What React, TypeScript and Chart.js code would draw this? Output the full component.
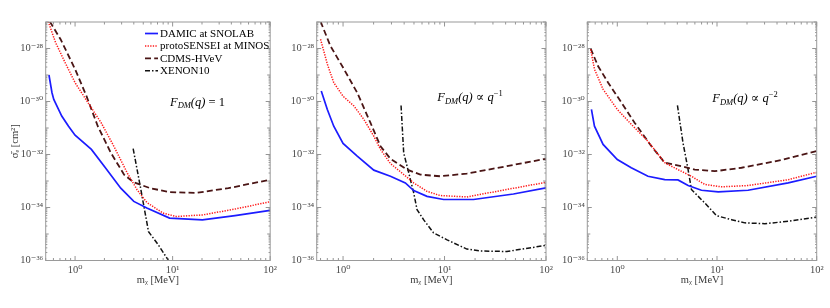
import React, { useEffect, useRef } from "react";
import { Chart, registerables } from "chart.js";
Chart.register(...registerables);

const FONT = "'Liberation Serif', 'DejaVu Serif', serif";

// ---------- tick labels ----------
const X_TICKS = [1, 10, 100];
const X_TICK_LABELS = ["10\u2070", "10\u00B9", "10\u00B2"];
const Y_TICKS = [1e-36, 1e-34, 1e-32, 1e-30, 1e-28];
const Y_TICK_LABELS = ["10\u207B\u00B3\u2076", "10\u207B\u00B3\u2074", "10\u207B\u00B3\u00B2", "10\u207B\u00B3\u2070", "10\u207B\u00B2\u2078"];
const X_TITLE = "m\u1D6A [MeV]";
const Y_TITLE = "\u03C3\u0304\u2091 [cm\u00B2]";
const SERIES_NAMES = ["DAMIC at SNOLAB", "protoSENSEI at MINOS", "CDMS-HVeV", "XENON10"];

// ---------- Panel 1 : F_DM(q) = 1 ----------
const p1DamicX = [0.54, 0.58, 0.605, 0.73, 0.857, 1.0, 1.47, 2.0, 2.94, 4.0, 5.44, 9.3, 20.2, 43.6, 100];
const p1DamicY = [1.0e-29, 2.14e-30, 1.2e-30, 2.82e-31, 1.17e-31, 5.37e-32, 1.55e-32, 3.55e-33, 5.37e-34, 1.7e-34, 9.55e-35, 3.98e-35, 3.39e-35, 4.9e-35, 7.76e-35];
const p1ProtoX = [0.53, 0.63, 0.79, 1.0, 1.36, 1.85, 2.5, 3.43, 4.32, 5.44, 7.95, 10.9, 20.2, 43.6, 100];
const p1ProtoY = [1.05e-27, 1.7e-28, 2.95e-29, 5.13e-30, 8.91e-31, 1.585e-31, 2.04e-32, 2.0e-33, 4.68e-34, 1.55e-34, 6.17e-35, 4.57e-35, 5.25e-35, 8.71e-35, 1.66e-34];
const p1CdmsX = [0.55, 0.71, 1.0, 1.31, 1.71, 2.33, 3.18, 4.0, 5.88, 9.33, 17.3, 37.3, 100];
const p1CdmsY = [1.05e-27, 2.24e-28, 1.66e-29, 1.585e-30, 1.17e-31, 1.15e-32, 1.74e-33, 8.91e-34, 5.37e-34, 3.8e-34, 3.55e-34, 5.37e-34, 1.12e-33];
const p1XenonX = [3.94, 4.66, 5.66, 7.13, 8.99, 9.6];
const p1XenonY = [1.66e-32, 6.31e-34, 1.23e-35, 3.89e-36, 1.05e-36, 6.0e-37];

// ---------- Panel 2 : F_DM(q) ∝ q^-1 ----------
const p2DamicX = [0.61, 0.7, 0.81, 1.0, 1.38, 2.01, 2.93, 4.11, 4.97, 6.72, 9.8, 19.3, 47.8, 100];
const p2DamicY = [2.51e-30, 5.01e-31, 1.17e-31, 2.63e-32, 8.71e-33, 2.57e-33, 1.51e-33, 8.51e-34, 4.37e-34, 2.63e-34, 2.0e-34, 2.0e-34, 3.24e-34, 5.5e-34];
const p2ProtoX = [0.6, 0.7, 0.81, 1.0, 1.28, 1.6, 2.01, 2.34, 2.93, 3.67, 4.97, 6.72, 9.08, 16.6, 41.1, 100];
const p2ProtoY = [2.24e-28, 2.57e-29, 5.13e-30, 1.585e-30, 6.76e-31, 2.14e-31, 4.9e-32, 1.55e-32, 4.57e-33, 2.24e-33, 8.51e-34, 4.07e-34, 2.82e-34, 2.51e-34, 4.79e-34, 8.91e-34];
const p2CdmsX = [0.6, 0.75, 1.0, 1.38, 1.86, 2.34, 2.93, 4.27, 5.78, 9.08, 16.6, 41.1, 100];
const p2CdmsY = [1.05e-27, 1.26e-28, 1.91e-29, 2.14e-30, 1.585e-31, 2.04e-32, 6.92e-33, 2.69e-33, 1.74e-33, 1.51e-33, 1.91e-33, 3.63e-33, 6.92e-33];
const p2XenonX = [3.73, 3.96, 4.44, 4.97, 5.36, 6.22, 7.8, 10.6, 16.6, 22.4, 41.1, 100];
const p2XenonY = [7.08e-31, 1.15e-32, 2.04e-33, 3.55e-34, 8.32e-35, 3.47e-35, 1.1e-35, 6.03e-36, 2.69e-36, 2.29e-36, 2.19e-36, 3.72e-36];

// ---------- Panel 3 : F_DM(q) ∝ q^-2 ----------
const p3DamicX = [0.55, 0.59, 0.72, 1.0, 1.38, 2.03, 2.99, 4.06, 5.13, 6.98, 10.3, 20.5, 51.8, 100];
const p3DamicY = [5.01e-31, 1.17e-31, 2.4e-32, 6.46e-33, 3.16e-33, 1.51e-33, 1.12e-33, 1.1e-33, 6.76e-34, 4.47e-34, 3.89e-34, 4.47e-34, 8.51e-34, 1.51e-33];
const p3ProtoX = [0.54, 0.59, 0.72, 1.0, 1.38, 2.03, 2.99, 4.06, 5.54, 7.54, 11.1, 20.5, 51.8, 100];
const p3ProtoY = [9.33e-29, 1.66e-29, 2.88e-30, 5.01e-31, 1.38e-31, 3.16e-32, 4.9e-33, 2.69e-33, 1.51e-33, 7.41e-34, 6.03e-34, 6.76e-34, 1.12e-33, 2.14e-33];
const p3CdmsX = [0.54, 0.64, 0.81, 1.1, 1.49, 2.2, 2.99, 4.4, 5.98, 9.5, 17.6, 44.5, 100];
const p3CdmsY = [1.0e-28, 2.19e-29, 5.13e-30, 9.12e-31, 1.585e-31, 2.04e-32, 4.9e-33, 3.63e-33, 2.69e-33, 2.34e-33, 3.16e-33, 6.17e-33, 1.35e-32];
const p3XenonX = [4.01, 4.56, 5.13, 5.54, 7.54, 9.9, 14, 19, 30.2, 51.8, 100];
const p3XenonY = [7.08e-31, 2.75e-32, 2.69e-33, 4.79e-34, 1.48e-34, 4.9e-35, 3.47e-35, 2.63e-35, 2.45e-35, 3.02e-35, 4.37e-35];

// ---------- styles ----------
const STYLES = [
  { borderColor: "#1c1cff", borderWidth: 1.7, borderDash: [] as number[] },
  { borderColor: "#ff1a1a", borderWidth: 1.5, borderDash: [1.3, 1.3] },
  { borderColor: "#4a1515", borderWidth: 1.8, borderDash: [6, 3.2] },
  { borderColor: "#111111", borderWidth: 1.5, borderDash: [5, 2, 1.5, 2] },
];

type Part = { t: string; it?: boolean; sz: number; dy?: number };

const ANNOT1: Part[] = [
  { t: "F", it: true, sz: 12.5 },
  { t: "DM", it: true, sz: 8.5, dy: 2.5 },
  { t: "(q) ", it: true, sz: 12.5 },
  { t: "= 1", sz: 12.5 },
];
const ANNOT2: Part[] = [
  { t: "F", it: true, sz: 12.5 },
  { t: "DM", it: true, sz: 8.5, dy: 2.5 },
  { t: "(q) ", it: true, sz: 12.5 },
  { t: "\u221D ", sz: 12.5 },
  { t: "q", it: true, sz: 12.5 },
  { t: "\u22121", sz: 8.5, dy: -5 },
];
const ANNOT3: Part[] = [
  { t: "F", it: true, sz: 12.5 },
  { t: "DM", it: true, sz: 8.5, dy: 2.5 },
  { t: "(q) ", it: true, sz: 12.5 },
  { t: "\u221D ", sz: 12.5 },
  { t: "q", it: true, sz: 12.5 },
  { t: "\u22122", sz: 8.5, dy: -5 },
];

type PanelCfg = {
  left: number;
  width: number;
  yWidth: number;
  padRight: number;
  xMin: number;
  yTitle: boolean;
  legend: boolean;
  annot: Part[];
  annotX: number;
  annotY: number;
  xs: number[][];
  ys: number[][];
};

const PANELS: PanelCfg[] = [
  {
    left: 0, width: 280, yWidth: 45.7, padRight: 4, xMin: 0.5, yTitle: true, legend: true,
    annot: ANNOT1, annotX: 197.5, annotY: 105.5,
    xs: [p1DamicX, p1ProtoX, p1CdmsX, p1XenonX], ys: [p1DamicY, p1ProtoY, p1CdmsY, p1XenonY],
  },
  {
    left: 280, width: 280, yWidth: 36.7, padRight: 14, xMin: 0.55, yTitle: false, legend: false,
    annot: ANNOT2, annotX: 190, annotY: 101,
    xs: [p2DamicX, p2ProtoX, p2CdmsX, p2XenonX], ys: [p2DamicY, p2ProtoY, p2CdmsY, p2XenonY],
  },
  {
    left: 560, width: 270, yWidth: 27.3, padRight: 13.3, xMin: 0.5, yTitle: false, legend: false,
    annot: ANNOT3, annotX: 185, annotY: 102,
    xs: [p3DamicX, p3ProtoX, p3CdmsX, p3XenonX], ys: [p3DamicY, p3ProtoY, p3CdmsY, p3XenonY],
  },
];

function drawParts(ctx: CanvasRenderingContext2D, parts: Part[], cx: number, by: number) {
  const fontOf = (p: Part) => `${p.it ? "italic " : ""}${p.sz}px ${FONT}`;
  let total = 0;
  for (const p of parts) {
    ctx.font = fontOf(p);
    total += ctx.measureText(p.t).width;
  }
  let x = cx - total / 2;
  ctx.fillStyle = "#000";
  ctx.textBaseline = "alphabetic";
  ctx.textAlign = "left";
  for (const p of parts) {
    ctx.font = fontOf(p);
    ctx.fillText(p.t, x, by + (p.dy || 0));
    x += ctx.measureText(p.t).width;
  }
}

function makeFramePlugin(cfg: PanelCfg) {
  return {
    id: "frameTicks",
    afterDraw(chart: any) {
      const { ctx, chartArea: a } = chart;
      const xs = chart.scales.x;
      const ys = chart.scales.y;
      ctx.save();
      // inward ticks
      ctx.strokeStyle = "#7a7a7a";
      ctx.lineWidth = 0.8;
      ctx.beginPath();
      for (let k = -1; k <= 2; k++) {
        for (let m = 1; m <= 9; m++) {
          const v = m * Math.pow(10, k);
          if (v < xs.min * 0.999 || v > xs.max * 1.001) continue;
          const px = xs.getPixelForValue(v);
          const L = m === 1 ? 4.5 : 2.5;
          ctx.moveTo(px, a.bottom);
          ctx.lineTo(px, a.bottom - L);
          ctx.moveTo(px, a.top);
          ctx.lineTo(px, a.top + L);
        }
      }
      for (let k = -37; k <= -27; k++) {
        for (let m = 1; m <= 9; m++) {
          const v = m * Math.pow(10, k);
          if (v < ys.min * 0.999 || v > ys.max * 1.001) continue;
          const py = ys.getPixelForValue(v);
          let L = 1.6;
          if (m === 1) L = k % 2 === 0 ? 4.5 : 3;
          ctx.moveTo(a.left, py);
          ctx.lineTo(a.left + L, py);
          ctx.moveTo(a.right, py);
          ctx.lineTo(a.right - L, py);
        }
      }
      ctx.stroke();
      // frame
      ctx.strokeStyle = "#9a9a9a";
      ctx.lineWidth = 1;
      ctx.strokeRect(a.left, a.top, a.right - a.left, a.bottom - a.top);

      // annotation
      drawParts(ctx, cfg.annot, cfg.annotX, cfg.annotY);

      // legend
      if (cfg.legend) {
        const x0 = 145, x1 = 158, tx = 160, y0 = 33.5, dy = 12.45;
        for (let i = 0; i < SERIES_NAMES.length; i++) {
          const st = STYLES[i];
          const y = y0 + i * dy;
          ctx.beginPath();
          ctx.strokeStyle = st.borderColor;
          ctx.lineWidth = st.borderWidth;
          ctx.setLineDash(st.borderDash);
          ctx.moveTo(x0, y);
          ctx.lineTo(x1, y);
          ctx.stroke();
          ctx.setLineDash([]);
          ctx.fillStyle = "#000";
          ctx.font = `11px ${FONT}`;
          ctx.textAlign = "left";
          ctx.textBaseline = "middle";
          ctx.fillText(SERIES_NAMES[i], tx, y + 0.5);
        }
      }
      ctx.restore();
    },
  };
}

function Panel({ cfg }: { cfg: PanelCfg }) {
  const ref = useRef<HTMLCanvasElement | null>(null);
  useEffect(() => {
    if (!ref.current) return;
    const datasets = cfg.xs.map((xarr, i) => ({
      label: SERIES_NAMES[i],
      data: xarr.map((x, j) => ({ x, y: cfg.ys[i][j] })),
      borderColor: STYLES[i].borderColor,
      borderWidth: STYLES[i].borderWidth,
      borderDash: STYLES[i].borderDash,
      pointRadius: 0,
      tension: 0,
      fill: false,
    }));
    const chart = new Chart(ref.current, {
      type: "line",
      data: { datasets },
      options: {
        animation: false,
        responsive: false,
        maintainAspectRatio: false,
        devicePixelRatio: 1,
        layout: { padding: { top: 22, right: cfg.padRight, bottom: 21.5, left: 0 } },
        plugins: { legend: { display: false }, tooltip: { enabled: false } },
        scales: {
          x: {
            type: "logarithmic",
            min: cfg.xMin,
            max: 100,
            grid: { display: false, drawTicks: false },
            border: { display: false },
            afterBuildTicks: (s: any) => {
              s.ticks = X_TICKS.map((v) => ({ value: v }));
            },
            afterFit: (s: any) => {
              s.height = 26;
            },
            ticks: {
              autoSkip: false,
              maxRotation: 0,
              padding: 3,
              color: "#4a4a4a",
              font: { family: FONT, size: 10.5 },
              callback: (_v: any, i: number) => X_TICK_LABELS[i],
            },
            title: {
              display: true,
              text: X_TITLE,
              color: "#3a3a3a",
              font: { family: FONT, size: 10.5 },
              padding: { top: 0, bottom: 0 },
            },
          },
          y: {
            type: "logarithmic",
            min: 1e-36,
            max: 1e-27,
            grid: { display: false, drawTicks: false },
            border: { display: false },
            afterBuildTicks: (s: any) => {
              s.ticks = Y_TICKS.map((v) => ({ value: v }));
            },
            afterFit: (s: any) => {
              s.width = cfg.yWidth;
            },
            ticks: {
              autoSkip: false,
              padding: 2.5,
              color: "#4a4a4a",
              font: { family: FONT, size: 10.5 },
              callback: (_v: any, i: number) => Y_TICK_LABELS[i],
            },
            title: {
              display: cfg.yTitle,
              text: Y_TITLE,
              color: "#3a3a3a",
              font: { family: FONT, size: 10.5 },
              padding: { top: 9, bottom: 0 },
            },
          },
        },
      } as any,
      plugins: [makeFramePlugin(cfg)],
    });
    return () => chart.destroy();
  }, [cfg]);
  return (
    <canvas
      ref={ref}
      width={cfg.width}
      height={308}
      style={{ position: "absolute", left: cfg.left, top: 0, width: cfg.width, height: 308 }}
    />
  );
}

export default function App() {
  return (
    <div style={{ position: "absolute", left: 0, top: 0, width: 830, height: 308, background: "#fff" }}>
      {PANELS.map((p, i) => (
        <Panel key={i} cfg={p} />
      ))}
    </div>
  );
}
